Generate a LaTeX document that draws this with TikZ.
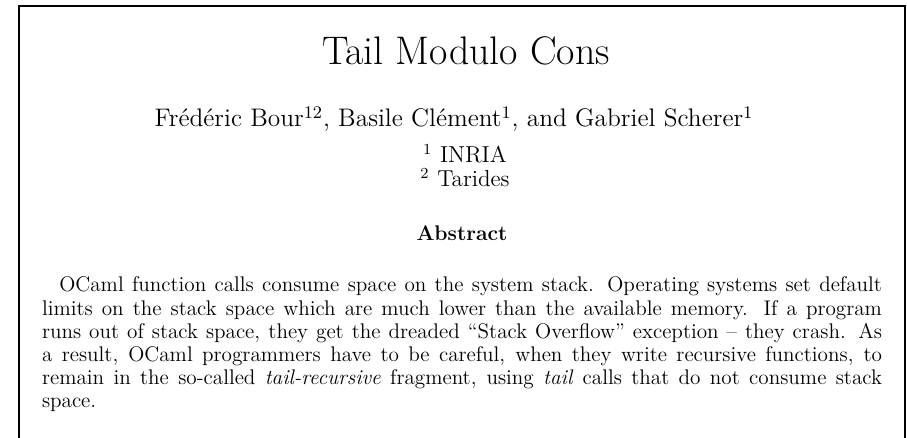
\documentclass[tikz,border=0pt]{standalone}
\usepackage{tikz}

\tikzset{
  pagetext/.style={inner sep=0pt, outer sep=0pt},
  affiltext/.style={pagetext, anchor=base, font=\fontsize{12}{14}\selectfont},
  bodytext/.style={pagetext, text width=436.8pt, align=justify,
    font=\fontsize{11}{12}\selectfont},
}

\begin{document}
\begin{tikzpicture}[x=0.52pt, y=0.52pt]
  \useasboundingbox (0,0) rectangle (907,438);
  % page frame, open at the bottom
  \draw[black, line width=1.2pt] (19,-2) -- (19,432) -- (905,432) -- (905,-2);

  \node[pagetext, anchor=base, font=\fontsize{20.74}{25}\selectfont] (title) at (466,373) {Tail Modulo Cons};
  \node[pagetext, anchor=base, font=\fontsize{13.2}{16}\selectfont] (authors) at (454,311)
    {Frédéric Bour\textsuperscript{12}, Basile Clément\textsuperscript{1}, and Gabriel Scherer\textsuperscript{1}};
  \node[affiltext] (inria) at (465,275) {\textsuperscript{1}\,\,INRIA};
  \node[affiltext] (tarides) at (465,251) {\textsuperscript{2}\,\,Tarides};
  \node[pagetext, anchor=base, font=\fontsize{11}{13}\selectfont\bfseries] (abshead) at (462,197) {Abstract};

  \node[bodytext, anchor=base west] (abstract) at (42,146) {%
    \hspace*{9pt}OCaml function calls consume space on the system stack. Operating systems set default\linebreak
    limits on the stack space which are much lower than the available memory. If a program\linebreak
    runs out of stack space, they get the dreaded “Stack Overflow” exception – they crash. As\linebreak
    a result, OCaml programmers have to be careful, when they write recursive functions, to\linebreak
    remain in the so-called \textit{tail-recursive} fragment, using \textit{tail} calls that do not consume stack\linebreak
    space.};
\end{tikzpicture}
\end{document}
